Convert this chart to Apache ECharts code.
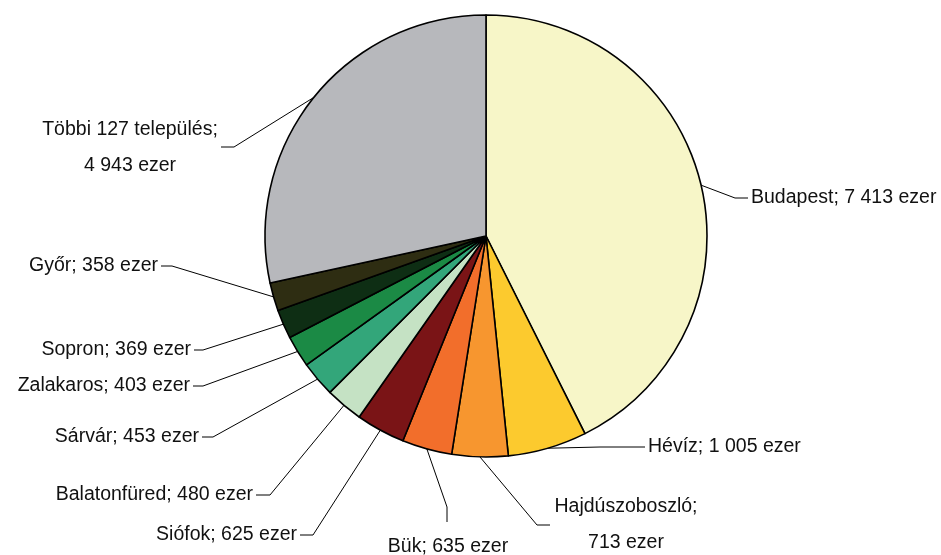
<!DOCTYPE html>
<html>
<head>
<meta charset="utf-8">
<script src="https://cdn.jsdelivr.net/npm/echarts@6/dist/echarts.min.js"></script>
<style>
    html, body { margin: 0; padding: 0; background: #fff; }
    #chart { width: 941px; height: 555px; }
</style>
</head>
<body>
<div id="chart"></div>
<script>
    // településenkénti vendégéjszakák (ezer)
    var names = ['Budapest', 'Hévíz', 'Hajdúszoboszló', 'Bük', 'Siófok', 'Balatonfüred',
        'Sárvár', 'Zalakaros', 'Sopron', 'Győr', 'Többi 127 település'];
    var values = [7413, 1005, 713, 635, 625, 480, 453, 403, 369, 358, 4943];
    var colors = ['#f7f6c8', '#fcca2e', '#f7962f', '#f26e2b', '#7a1416', '#c5e2c4',
        '#33a67a', '#1b8a45', '#0e2e14', '#2e2d12', '#b7b8bc'];

    // címkék helye: töréspont, vonal vége, szöveg helye, igazítás
    var labelPos = [
        [735, 198, 748, 198, 751, 198, 'left', 'middle'],
        [600, 447, 645, 447, 648, 447, 'left', 'middle'],
        [537, 525, 550, 525, 626, 525, 'center', 'middle'],
        [447, 507, 447, 522, 448, 547, 'center', 'middle'],
        [313, 535, 300, 535, 297, 535, 'right', 'middle'],
        [270, 495, 256, 495, 253, 495, 'right', 'middle'],
        [213, 437, 202, 437, 199, 437, 'right', 'middle'],
        [203, 386, 193, 386, 190, 386, 'right', 'middle'],
        [203, 350, 194, 350, 191, 350, 'right', 'middle'],
        [172, 266, 161, 266, 158, 266, 'right', 'middle'],
        [234, 147, 221, 147, 130, 148, 'center', 'middle']
    ];

    function fmt(v) {
        return String(v).replace(/\B(?=(\d{3})+(?!\d))/g, ' ');
    }

    var data = [];
    for (var i = 0; i < names.length; i++) {
        data.push({
            name: names[i],
            value: values[i],
            itemStyle: { color: colors[i] }
        });
    }

    var chart = echarts.init(document.getElementById('chart'));

    chart.setOption({
        animation: false,
        series: [{
            type: 'pie',
            center: [486, 236],
            radius: 221,
            startAngle: 90,
            clockwise: true,
            avoidLabelOverlap: false,
            data: data,
            itemStyle: {
                borderColor: '#000',
                borderWidth: 1.6
            },
            emphasis: { disabled: true },
            label: {
                show: true,
                position: 'outside',
                color: '#111',
                fontFamily: 'Liberation Sans, Arial, sans-serif',
                fontSize: 19.5,
                lineHeight: 36,
                formatter: function (p) {
                    var sep = (p.dataIndex === 2 || p.dataIndex === 10) ? ';\n' : '; ';
                    return p.name + sep + fmt(p.value) + ' ezer';
                }
            },
            labelLine: {
                show: true,
                length: 20,
                length2: 12,
                lineStyle: { color: '#000', width: 1 }
            },
            labelLayout: function (params) {
                var lp = labelPos[params.dataIndex];
                var pts = params.labelLinePoints;
                var p0 = pts && pts[0] ? pts[0] : [lp[0], lp[1]];
                return {
                    x: lp[4],
                    y: lp[5],
                    align: lp[6],
                    verticalAlign: lp[7],
                    labelLinePoints: [p0, [lp[0], lp[1]], [lp[2], lp[3]]]
                };
            }
        }]
    });
</script>
</body>
</html>
